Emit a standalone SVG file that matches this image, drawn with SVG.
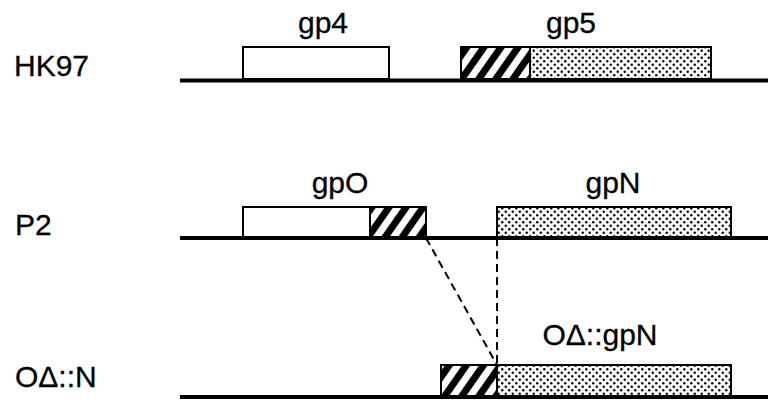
<svg xmlns="http://www.w3.org/2000/svg" width="768" height="403" viewBox="0 0 768 403">
  <style>
    .lbl { font-family: "Liberation Sans", Arial, sans-serif; font-size: 30px; fill: #000; stroke: #000; stroke-width: 0.3; }
    .mid { text-anchor: middle; }
    .dna { stroke: #000; stroke-width: 4; fill: none; }
    .box { stroke: #000; stroke-width: 2; }
    .plain { fill: #fff; }
    .hatch { fill: url(#hatch); }
    .dots { fill: url(#dots); }
    .link { stroke: #000; stroke-width: 2; stroke-dasharray: 8 5; fill: none; }
  </style>
  <defs>
    <pattern id="hatch" patternUnits="userSpaceOnUse" width="14" height="14" patternTransform="rotate(35)">
      <rect width="14" height="14" fill="#fff"/>
      <rect width="7" height="14" fill="#000"/>
    </pattern>
    <pattern id="dots" patternUnits="userSpaceOnUse" width="7" height="7">
      <rect width="7" height="7" fill="#fff"/>
      <circle cx="1.75" cy="1.75" r="1.2" fill="#000"/>
      <circle cx="5.25" cy="5.25" r="1.2" fill="#000"/>
    </pattern>
  </defs>

  <rect width="768" height="403" fill="#fff"/>

  <!-- HK97 row -->
  <g id="hk97">
    <text class="lbl" x="14" y="76">HK97</text>
    <line class="dna" x1="180" y1="80.5" x2="768" y2="80.5"/>
  </g>
  <g id="gp4">
    <rect class="box plain" x="243" y="47" width="146" height="32"/>
    <text class="lbl mid" x="323" y="33">gp4</text>
  </g>
  <g id="gp5">
    <rect class="box hatch" x="461" y="47" width="69" height="32"/>
    <rect class="box dots" x="530" y="47" width="181" height="32"/>
    <text class="lbl mid" x="571" y="33">gp5</text>
  </g>

  <!-- P2 row -->
  <g id="p2">
    <text class="lbl" x="15" y="235">P2</text>
    <line class="dna" x1="180" y1="238" x2="768" y2="238"/>
  </g>
  <g id="gpO">
    <rect class="box plain" x="243" y="207" width="127" height="30"/>
    <rect class="box hatch" x="370" y="207" width="56" height="30"/>
    <text class="lbl mid" x="340" y="193">gpO</text>
  </g>
  <g id="gpN">
    <rect class="box dots" x="497" y="207" width="234" height="30"/>
    <text class="lbl mid" x="613" y="193">gpN</text>
  </g>

  <!-- OΔ::N row -->
  <g id="odn">
    <text class="lbl" x="15" y="387">OΔ::N</text>
    <line class="dna" x1="180" y1="397" x2="768" y2="397"/>
  </g>
  <g id="odgpN">
    <rect class="box hatch" x="441" y="365" width="56" height="31"/>
    <rect class="box dots" x="497" y="365" width="234" height="31"/>
    <text class="lbl mid" x="600" y="345">OΔ::gpN</text>
  </g>

  <!-- fusion junction guides -->
  <g id="connectors">
    <line class="link" x1="426" y1="238" x2="497" y2="365"/>
    <line class="link" x1="497" y1="238" x2="497" y2="365"/>
  </g>
</svg>
